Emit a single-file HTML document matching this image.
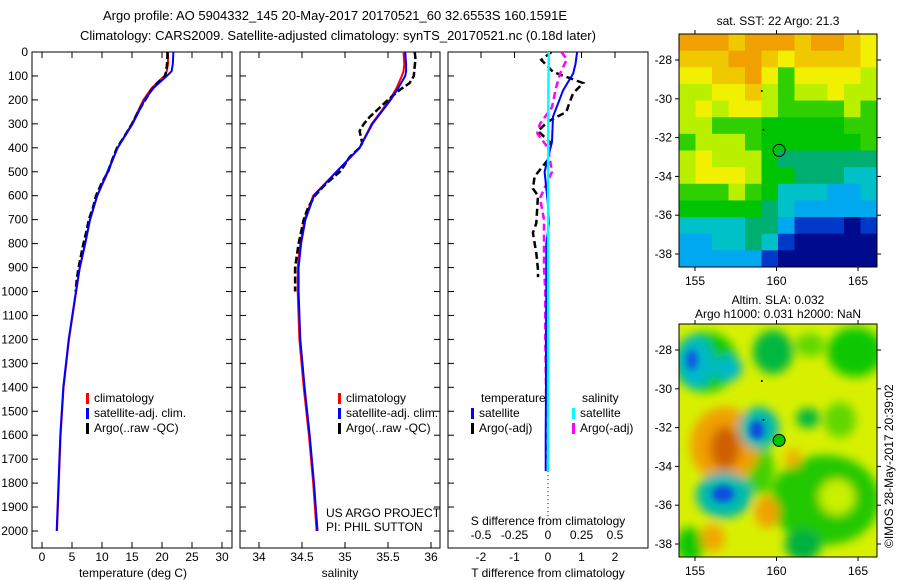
<!DOCTYPE html>
<html><head><meta charset="utf-8">
<style>
html,body{margin:0;padding:0;background:#fff;}
svg{display:block;font-family:"Liberation Sans",sans-serif;}
text{font-size:12px;fill:#000;}
</style></head>
<body>
<svg id="fig" width="900" height="580" viewBox="0 0 900 580" xmlns="http://www.w3.org/2000/svg">
<defs>
<clipPath id="clipT"><rect x="32" y="52" width="200" height="496"/></clipPath>
<clipPath id="clipS"><rect x="240" y="52" width="200" height="496"/></clipPath>
<clipPath id="clipD"><rect x="448" y="52" width="200" height="496"/></clipPath>
<clipPath id="clipM1"><rect x="679" y="34" width="198" height="233"/></clipPath>
<clipPath id="clipM2"><rect x="679" y="324" width="198" height="233"/></clipPath>
<filter id="blr" x="-50%" y="-50%" width="200%" height="200%"><feGaussianBlur stdDeviation="5"/></filter>
<filter id="blr2" x="-50%" y="-50%" width="200%" height="200%"><feGaussianBlur stdDeviation="3"/></filter>
</defs>
<text x="335" y="20" text-anchor="middle" style="font-size:13px">Argo profile: AO 5904332_145 20-May-2017 20170521_60 32.6553S 160.1591E</text>
<text x="338" y="40" text-anchor="middle" style="font-size:13px">Climatology: CARS2009. Satellite-adjusted climatology: synTS_20170521.nc (0.18d later)</text>
<g id="gT"></g>
<g id="gS"></g>
<g id="gD"></g>
<g id="gM1"></g>
<g id="gM2"></g>
<text transform="translate(893,548) rotate(-90)" style="font-size:12px">©IMOS 28-May-2017 20:39:02</text>
</svg>
<script>
const NS="http://www.w3.org/2000/svg";
// ---- data ----
const depthTicks=[0,100,200,300,400,500,600,700,800,900,1000,1100,1200,1300,1400,1500,1600,1700,1800,1900,2000];
const tempTicks=[0,5,10,15,20,25,30];
const salTicks=[34,34.5,35,35.5,36];
const salTickLabels=["34","34.5","35","35.5","36"];
const dTTicks=[-2,-1,0,1,2];
const dSTicks=[-0.5,-0.25,0,0.25,0.5];
const dSTickLabels=["-0.5","-0.25","0","0.25","0.5"];
const climDepth=[0,50,80,100,150,200,300,400,500,600,700,800,900,1000,1200,1400,1600,1800,2000];
const climTemp=[21,21,20.8,20.4,18.3,16.9,15,12.6,11,9.2,8,7.2,6.3,5.7,4.5,3.6,3.1,2.8,2.5];
const satTemp=[21.9,21.8,21.6,20.8,18.6,17.1,15.1,12.6,10.9,9.2,8,7.2,6.3,5.65,4.45,3.55,3.05,2.75,2.45];
const argoTDepth=[0,30,60,80,100,130,160,200,250,300,350,400,450,500,550,600,650,700,750,800,850,900,950,1000];
const argoTemp=[20.9,20.9,20.8,20.7,20.5,19.2,18.2,17.2,16.0,15.0,13.8,12.5,11.7,11.0,9.9,9.0,8.5,7.8,7.4,6.9,6.5,6.1,5.8,5.6];
const climSal=[35.68,35.69,35.68,35.66,35.6,35.52,35.31,35.17,34.9,34.63,34.53,34.48,34.45,34.45,34.47,34.52,34.58,34.63,34.67];
const satSal=[35.7,35.71,35.71,35.7,35.62,35.53,35.32,35.17,34.9,34.64,34.54,34.49,34.46,34.46,34.48,34.53,34.59,34.64,34.68];
const argoSDepth=[0,30,60,100,130,160,200,240,270,300,330,380,400,440,480,500,550,600,650,700,800,900,1000];
const argoSal=[35.81,35.82,35.81,35.8,35.75,35.63,35.5,35.38,35.29,35.22,35.17,35.2,35.17,35.05,34.98,34.94,34.78,34.65,34.57,34.52,34.46,34.42,34.42];
const dDepth=[0,50,90,160,270,375,500,640,715,800,900,1000,1200,1400,1600,1750];
const dTsat=[0.87,0.82,0.75,0.45,0.15,0.12,-0.1,0,0.03,-0.05,-0.05,-0.05,-0.06,-0.06,-0.07,-0.07];
const dSsat=[0.006,0.005,0.004,0.003,0.002,0.002,0.001,0.001,0.001,0.001,0.001,0.001,0.001,0.001,0.001,0.001];
const dTargoDepth=[0,33,83,130,172,228,250,290,330,375,450,520,570,600,715,755,840,910,940];
const dTargo=[0.1,-0.2,0.15,1.05,0.75,0.6,0.55,0.0,-0.3,0.05,0.0,-0.4,-0.45,-0.3,-0.35,-0.45,-0.35,-0.3,-0.3];
const dSargoDepth=[0,30,90,150,230,300,340,400,500,610,700,800,900,1000,1200,1400,1600,1700];
const dSargo=[0.1,0.14,0.09,0.06,0.03,-0.06,-0.08,0.0,0.03,-0.06,-0.03,-0.03,-0.03,-0.02,-0.02,-0.015,-0.01,-0.01];
// SST map: color class per cell (rows top->bottom)
const sstGrid=[
[10,10,10,9,10,10,10,9,10,10,9,8],
[9,9,9,10,10,9,8,9,9,9,9,8],
[8,8,9,9,10,8,6,8,8,8,8,7],
[7,7,8,8,9,7,6,7,7,8,7,7],
[7,8,7,8,8,7,6,6,6,6,7,6],
[7,7,6,6,6,5,5,5,5,5,6,6],
[6,7,7,7,6,5,5,5,5,5,5,6],
[7,8,7,7,7,5,4,4,4,4,4,4],
[7,8,8,8,7,5,5,4,4,4,3,3],
[6,6,6,7,6,5,3,3,3,2,2,3],
[5,5,5,5,5,4,3,2,2,2,2,2],
[3,3,3,3,4,4,2,1,1,1,0,1],
[2,2,3,3,4,3,1,0,0,0,0,0],
[2,2,2,2,2,1,0,0,0,0,0,0]];
const sstColors=["#000a8c","#0038c8","#00a8f0","#00c0c8","#00b070","#00c400","#30d000","#b8f000","#f0f000","#f0c800","#f0a000"];
const mapLonTicks=[155,160,165];
const mapLatTicks=[-28,-30,-32,-34,-36,-38];
// ---- helpers ----
const yD=d=>52+d*0.2395;
const xT=t=>42+t*6;
const xS=s=>259+(s-34)*86;
const xDT=t=>548+t*33.5;
const xDS=s=>548+s*134;
const mLon=l=>695+(l-155)*16.3;
const mLat=(a,top)=>top+26+(-28-a)*19.4;
function el(parent,tag,attrs,txt){const e=document.createElementNS(NS,tag);for(const k in attrs)e.setAttribute(k,attrs[k]);if(txt!==undefined)e.textContent=txt;parent.appendChild(e);return e;}
function line(g,xs,ys,fx,color,w,dash,clip,name){
  const pts=xs.map((v,i)=>fx(v).toFixed(1)+","+yD(ys[i]).toFixed(1)).join(" ");
  const p=el(g,"polyline",{points:pts,fill:"none",stroke:color,"stroke-width":w,"clip-path":"url(#"+clip+")"});
  if(dash)p.setAttribute("stroke-dasharray",dash);
  
  
}
function frame(g,x){
  const r=el(g,"rect",{x:x,y:52,width:200,height:496,fill:"none",stroke:"#000","stroke-width":1});
  
  
  depthTicks.forEach(d=>{el(g,"line",{x1:x,x2:x+6,y1:yD(d),y2:yD(d),stroke:"#000"});el(g,"line",{x1:x+200,x2:x+194,y1:yD(d),y2:yD(d),stroke:"#000"});});
}
function legendItem(g,x,y,color,label,name){
  const m=el(g,"rect",{x:x,y:y-9,width:3,height:11,fill:color});
  
  
  const t=el(g,"text",{x:x+8,y:y},label);
  
  
}
// ---- temperature panel ----
const gT=document.getElementById("gT");
frame(gT,32);
depthTicks.forEach(d=>{const t=el(gT,"text",{x:28,y:yD(d)+4,"text-anchor":"end"},String(d));});
tempTicks.forEach(v=>{el(gT,"line",{x1:xT(v),x2:xT(v),y1:548,y2:542,stroke:"#000"});el(gT,"line",{x1:xT(v),x2:xT(v),y1:52,y2:58,stroke:"#000"});const t=el(gT,"text",{x:xT(v),y:561,"text-anchor":"middle"},String(v));});
{const t=el(gT,"text",{x:133,y:577,"text-anchor":"middle"},"temperature (deg C)");}
line(gT,climTemp,climDepth,xT,"#f00",2,null,"clipT","clim-temp-line");
line(gT,argoTemp,argoTDepth,xT,"#000",2.5,"7,3","clipT","argo-temp-line");
line(gT,satTemp,climDepth,xT,"#00f",2,null,"clipT","sat-temp-line");
legendItem(gT,86,402,"#f00","climatology","legend-climatology");
legendItem(gT,86,417,"#00f","satellite-adj. clim.","legend-satellite");
legendItem(gT,86,432,"#000","Argo(..raw -QC)","legend-argo");
// ---- salinity panel ----
const gS=document.getElementById("gS");
frame(gS,240);
salTicks.forEach((v,i)=>{el(gS,"line",{x1:xS(v),x2:xS(v),y1:548,y2:542,stroke:"#000"});el(gS,"line",{x1:xS(v),x2:xS(v),y1:52,y2:58,stroke:"#000"});const t=el(gS,"text",{x:xS(v),y:561,"text-anchor":"middle"},salTickLabels[i]);});
{const t=el(gS,"text",{x:340,y:577,"text-anchor":"middle"},"salinity");}
line(gS,climSal,climDepth,xS,"#f00",2,null,"clipS","clim-sal-line");
line(gS,argoSal,argoSDepth,xS,"#000",2.5,"7,3","clipS","argo-sal-line");
line(gS,satSal,climDepth,xS,"#00f",2,null,"clipS","sat-sal-line");
legendItem(gS,338,402,"#f00","climatology","legend-climatology-s");
legendItem(gS,338,417,"#00f","satellite-adj. clim.","legend-satellite-s");
legendItem(gS,338,432,"#000","Argo(..raw -QC)","legend-argo-s");
{let t=el(gS,"text",{x:326,y:517},"US ARGO PROJECT");
t=el(gS,"text",{x:326,y:531},"PI: PHIL SUTTON");}
// ---- difference panel ----
const gD=document.getElementById("gD");
{const r=el(gD,"rect",{x:448,y:52,width:200,height:496,fill:"none",stroke:"#000"});
depthTicks.forEach(d=>{el(gD,"line",{x1:448,x2:454,y1:yD(d),y2:yD(d),stroke:"#000"});});}
dTTicks.forEach(v=>{el(gD,"line",{x1:xDT(v),x2:xDT(v),y1:52,y2:58,stroke:"#000"});const t=el(gD,"text",{x:xDT(v),y:561,"text-anchor":"middle"},String(v));});
dSTicks.forEach((v,i)=>{const t=el(gD,"text",{x:xDS(v),y:539,"text-anchor":"middle"},dSTickLabels[i]);});
{let t=el(gD,"text",{x:548,y:525,"text-anchor":"middle"},"S difference from climatology");
t=el(gD,"text",{x:548,y:577,"text-anchor":"middle"},"T difference from climatology");}
{const z=el(gD,"line",{x1:548,x2:548,y1:yD(1750),y2:yD(1900)+10,stroke:"#000","stroke-dasharray":"1,3"});}
line(gD,dTargo,dTargoDepth,xDT,"#000",2.5,"7,4","clipD","argo-dT-line");
line(gD,dSargo,dSargoDepth,xDS,"#f0f",2.5,"7,4","clipD","argo-dS-line");
line(gD,dTsat,dDepth,xDT,"#00f",2,null,"clipD","sat-dT-line");
line(gD,dSsat,dDepth,xDS,"#0ff",2.5,null,"clipD","sat-dS-line");
{let t=el(gD,"text",{x:481,y:402},"temperature");
t=el(gD,"text",{x:582,y:402},"salinity");}
legendItem(gD,471,417,"#00f","satellite","legend-t-satellite");
legendItem(gD,471,432,"#000","Argo(-adj)","legend-t-argo");
legendItem(gD,572,417,"#0ff","satellite","legend-s-satellite");
legendItem(gD,572,432,"#f0f","Argo(-adj)","legend-s-argo");
// ---- maps ----
function mapAxes(g,top){
  el(g,"rect",{x:679,y:top,width:198,height:233,fill:"none",stroke:"#000"});
  mapLonTicks.forEach(l=>{el(g,"line",{x1:mLon(l),x2:mLon(l),y1:top,y2:top-4,stroke:"#000"});el(g,"line",{x1:mLon(l),x2:mLon(l),y1:top+233,y2:top+237,stroke:"#000"});const t=el(g,"text",{x:mLon(l),y:top+251,"text-anchor":"middle"},String(l));});
  mapLatTicks.forEach(a=>{const y=mLat(a,top);el(g,"line",{x1:679,x2:675,y1:y,y2:y,stroke:"#000"});el(g,"line",{x1:877,x2:881,y1:y,y2:y,stroke:"#000"});const t=el(g,"text",{x:672,y:y+4,"text-anchor":"end"},String(a));});
  el(g,"circle",{cx:mLon(160.16),cy:mLat(-32.66,top),r:6,fill:"none",stroke:"#000"});
  el(g,"circle",{cx:mLon(159.1),cy:mLat(-29.6,top),r:1,fill:"#000"});
  el(g,"circle",{cx:mLon(159.2),cy:mLat(-31.6,top),r:1,fill:"#000"});
}
const g1=document.getElementById("gM1");
{const cw=198/12,ch=233/14;
sstGrid.forEach((row,r)=>row.forEach((v,c)=>{const cell=el(g1,"rect",{x:679+c*cw,y:34+r*ch,width:cw+0.5,height:ch+0.5,fill:sstColors[v]});

}));}
mapAxes(g1,34);
{const t=el(g1,"text",{x:778,y:25,"text-anchor":"middle"},"sat. SST: 22  Argo: 21.3");}
const g2=document.getElementById("gM2");
{const cg=el(g2,"g",{"clip-path":"url(#clipM2)"});
el(cg,"rect",{x:679,y:324,width:198,height:233,fill:"#d8f000"});
const bl=el(cg,"g",{filter:"url(#blr)"});
const blobs=[
["ellipse",{cx:705,cy:362,rx:32,ry:30,fill:"#10c800"}],
["ellipse",{cx:773,cy:352,rx:20,ry:22,fill:"#00b840"}],
["ellipse",{cx:855,cy:352,rx:28,ry:25,fill:"#10c800"}],
["ellipse",{cx:810,cy:345,rx:15,ry:12,fill:"#60d800"}],
["ellipse",{cx:808,cy:418,rx:12,ry:10,fill:"#00b840"}],
["ellipse",{cx:840,cy:420,rx:16,ry:18,fill:"#60d800"}],
["ellipse",{cx:825,cy:500,rx:55,ry:45,fill:"#20c800"}],
["ellipse",{cx:837,cy:497,rx:18,ry:18,fill:"#c8f000"}],
["ellipse",{cx:690,cy:545,rx:14,ry:18,fill:"#10c800"}],
["ellipse",{cx:803,cy:545,rx:18,ry:16,fill:"#00b040"}],
["ellipse",{cx:760,cy:470,rx:14,ry:25,fill:"#40d000"}],
["ellipse",{cx:725,cy:445,rx:35,ry:38,fill:"#f0a000"}],
["ellipse",{cx:725,cy:448,rx:15,ry:22,fill:"#d06000"}],
["ellipse",{cx:793,cy:458,rx:8,ry:10,fill:"#f0b000"}],
["ellipse",{cx:767,cy:512,rx:12,ry:16,fill:"#f0a000"}],
["ellipse",{cx:713,cy:538,rx:12,ry:14,fill:"#f0a800"}],
["ellipse",{cx:696,cy:362,rx:18,ry:26,fill:"#00b8c8"}],
["ellipse",{cx:728,cy:368,rx:14,ry:13,fill:"#00b8c8"}],
["ellipse",{cx:759,cy:428,rx:20,ry:21,fill:"#00b8b0"}],
["ellipse",{cx:724,cy:495,rx:28,ry:23,fill:"#00b8b0"}]];
blobs.forEach(b=>el(bl,b[0],b[1]));
const bl2=el(cg,"g",{filter:"url(#blr2)"});
el(bl2,"ellipse",{cx:692,cy:360,rx:6,ry:10,fill:"#1060e0"});
el(bl2,"ellipse",{cx:757,cy:430,rx:7,ry:9,fill:"#1050e0"});
el(bl2,"ellipse",{cx:723,cy:494,rx:11,ry:8,fill:"#1050e0"});
el(cg,"circle",{cx:mLon(160.16),cy:mLat(-32.66,324),r:6,fill:"#00c000"});}
mapAxes(g2,324);
{let t=el(g2,"text",{x:778,y:304,"text-anchor":"middle"},"Altim. SLA: 0.032");
t=el(g2,"text",{x:778,y:318,"text-anchor":"middle"},"Argo h1000: 0.031 h2000: NaN");}
</script>
</body></html>
